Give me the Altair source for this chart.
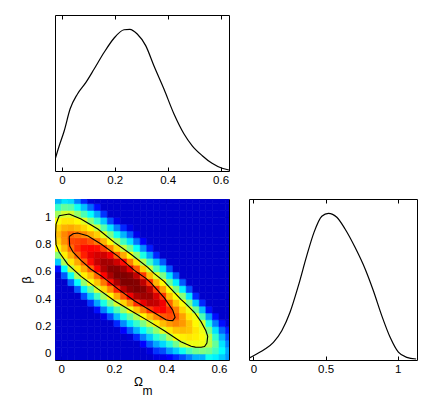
import altair as alt
import pandas as pd

FONT = "Liberation Sans"

# ---------------- 1D marginal of Omega_m (top panel) ----------------
omega_1d = [-0.026, -0.010, 0.009, 0.031, 0.059, 0.091, 0.122, 0.160, 0.197, 0.235, 0.257,
            0.285, 0.317, 0.348, 0.386, 0.424, 0.462, 0.493, 0.531, 0.568, 0.606, 0.632]
omega_pdf = [0.080, 0.178, 0.284, 0.437, 0.543, 0.625, 0.719, 0.837, 0.936, 0.996, 0.999,
             0.966, 0.884, 0.742, 0.578, 0.402, 0.261, 0.178, 0.108, 0.054, 0.019, 0.007]

# ---------------- 1D marginal of beta (right panel) ----------------
beta_1d = [-0.030, 0.023, 0.081, 0.139, 0.197, 0.254, 0.312, 0.370, 0.420, 0.474, 0.520,
           0.578, 0.635, 0.704, 0.774, 0.831, 0.889, 0.947, 1.004, 1.062, 1.127]
beta_pdf = [0.012, 0.041, 0.075, 0.121, 0.200, 0.326, 0.508, 0.713, 0.872, 0.982, 1.002,
            0.975, 0.895, 0.770, 0.622, 0.473, 0.303, 0.155, 0.053, 0.018, 0.007]

# ---------------- 2D density grid (columns of Omega_m, rows of beta bottom->top) -------------
omega_edges = [round(-0.025 + 0.025 * k, 4) for k in range(28)]
beta_edges = [round(-0.05 + 0.05 * k, 4) for k in range(25)]
density_cols = [
    [0,0,0,0,0,0,0,0,0,0,0,0,0,0.6,2.1,3.6,4.5,5.0,5.3,5.0,4.5,3.8,2.9,1.9],
    [0,0,0,0,0,0,0,0,0,0,0,0,1.2,2.5,3.9,4.7,5.3,5.8,5.9,5.4,4.8,4.2,3.3,2.3],
    [0,0,0,0,0,0,0,0,0,0,0,1.3,2.6,4.0,4.8,5.5,6.2,6.6,6.3,5.5,4.8,4.2,3.2,2.2],
    [0,0,0,0,0,0,0,0,0,0,1.2,2.5,3.9,4.8,5.5,6.3,6.9,6.7,6.1,5.3,4.6,3.7,2.6,1.5],
    [0,0,0,0,0,0,0,0,0,1.1,2.4,3.7,4.7,5.5,6.3,7.1,7.3,6.8,5.9,5.0,4.3,3.1,2.0,0.8],
    [0,0,0,0,0,0,0,0,0.9,2.1,3.3,4.5,5.3,6.3,7.3,7.9,7.4,6.5,5.5,4.6,3.6,2.5,1.3,0.1],
    [0,0,0,0,0,0,0,0.6,1.8,3.0,4.2,5.2,6.3,7.4,8.6,8.3,7.3,6.1,5.1,4.1,2.9,1.8,0.6,0],
    [0,0,0,0,0,0,0.3,1.5,2.7,3.8,5.0,6.1,7.4,9.0,9.3,8.4,6.7,5.4,4.3,3.2,2.1,0.9,0,0],
    [0,0,0,0,0,0,1.1,2.3,3.5,4.6,5.9,7.3,9.2,9.8,9.2,7.6,5.9,4.6,3.5,2.3,1.1,0,0,0],
    [0,0,0,0,0,0.8,2.0,3.1,4.2,5.5,7.0,9.1,10.0,9.8,8.4,6.4,5.0,3.8,2.6,1.5,0.3,0,0,0],
    [0,0,0,0,0.5,1.6,2.7,3.8,5.0,6.5,8.8,10.0,10.0,9.3,7.3,5.5,4.1,3.0,1.9,0.8,0,0,0,0],
    [0,0,0,0.1,1.2,2.3,3.3,4.4,5.8,7.7,9.7,10.0,9.8,8.0,6.0,4.5,3.4,2.3,1.2,0.2,0,0,0,0],
    [0,0,0,0.8,1.9,2.9,3.9,5.2,6.9,9.0,10.0,9.9,8.7,6.4,4.9,3.7,2.5,1.4,0.3,0,0,0,0,0],
    [0,0,0.5,1.5,2.5,3.5,4.6,6.0,7.9,9.4,9.8,8.8,6.8,5.1,3.9,2.7,1.6,0.5,0,0,0,0,0,0],
    [0,0.2,1.2,2.1,3.1,4.1,5.3,6.8,8.7,9.4,8.8,6.9,5.3,4.1,3.0,1.8,0.7,0,0,0,0,0,0,0],
    [0.2,0.9,1.8,2.8,3.7,4.7,5.9,7.3,8.6,8.2,6.8,5.4,4.3,3.1,2.0,0.8,0,0,0,0,0,0,0,0],
    [0.3,1.1,2.2,3.2,4.3,5.3,6.4,7.5,7.7,6.8,5.6,4.6,3.5,2.3,1.2,0,0,0,0,0,0,0,0,0],
    [0.5,1.7,2.8,3.9,4.8,5.7,6.6,6.9,6.3,5.3,4.5,3.4,2.3,1.1,0,0,0,0,0,0,0,0,0,0],
    [0.8,2.1,3.4,4.5,5.2,5.9,6.4,6.0,5.2,4.5,3.5,2.4,1.2,0,0,0,0,0,0,0,0,0,0,0],
    [1.1,2.6,4.1,4.7,5.3,5.7,5.6,5.0,4.5,3.6,2.4,1.2,0,0,0,0,0,0,0,0,0,0,0,0],
    [1.5,3.1,4.4,4.8,5.2,5.2,4.8,4.4,3.5,2.3,1.1,0,0,0,0,0,0,0,0,0,0,0,0,0],
    [1.9,3.4,4.4,4.7,4.8,4.6,4.4,3.4,2.1,0.8,0,0,0,0,0,0,0,0,0,0,0,0,0,0],
    [1.9,3.5,4.4,4.5,4.4,4.2,3.1,2.0,0.8,0,0,0,0,0,0,0,0,0,0,0,0,0,0,0],
    [2.6,3.4,4.0,4.0,3.5,2.7,1.7,0.6,0,0,0,0,0,0,0,0,0,0,0,0,0,0,0,0],
    [2.4,3.0,3.3,2.9,2.3,1.5,0.6,0,0,0,0,0,0,0,0,0,0,0,0,0,0,0,0,0],
    [2.1,2.5,2.3,1.9,1.3,0.6,0,0,0,0,0,0,0,0,0,0,0,0,0,0,0,0,0,0],
    [1.7,1.8,1.5,1.1,0.7,0.1,0,0,0,0,0,0,0,0,0,0,0,0,0,0,0,0,0,0],
]

# ---------------- confidence contours (Omega_m, beta) ----------------
outer_om = [0.030, 0.075, 0.139, 0.202, 0.265, 0.329, 0.354, 0.392, 0.411, 0.455, 0.475, 0.506,
            0.532, 0.550, 0.557, 0.554, 0.545, 0.532, 0.510, 0.494, 0.455, 0.392, 0.329, 0.265,
            0.202, 0.139, 0.075, 0.024, -0.008, -0.020, -0.022, -0.020, -0.008, 0.030]
outer_beta = [1.024, 0.988, 0.914, 0.817, 0.730, 0.634, 0.588, 0.530, 0.490, 0.400, 0.365, 0.305,
              0.235, 0.170, 0.130, 0.080, 0.055, 0.049, 0.050, 0.056, 0.090, 0.170, 0.244, 0.317,
              0.390, 0.476, 0.568, 0.658, 0.744, 0.800, 0.870, 0.950, 1.012, 1.024]
inner_om = [0.030, 0.045, 0.062, 0.100, 0.151, 0.215, 0.278, 0.322, 0.341, 0.392, 0.424, 0.433,
            0.424, 0.410, 0.398, 0.341, 0.278, 0.215, 0.151, 0.113, 0.075, 0.045, 0.032, 0.030]
inner_beta = [0.860, 0.880, 0.885, 0.865, 0.805, 0.716, 0.612, 0.553, 0.520, 0.410, 0.320, 0.268,
              0.244, 0.245, 0.251, 0.317, 0.390, 0.476, 0.573, 0.620, 0.685, 0.745, 0.790, 0.860]

# ---------------- tables ----------------
heat_rows = []
for j, col in enumerate(density_cols):
    for i, v in enumerate(col):
        heat_rows.append({"om0": omega_edges[j], "om1": omega_edges[j + 1],
                          "b0": beta_edges[i], "b1": beta_edges[i + 1], "v": v})
heat_df = pd.DataFrame(heat_rows)

cont_rows = []
for name, oms, bs in [("outer", outer_om, outer_beta), ("inner", inner_om, inner_beta)]:
    for k, (o, b) in enumerate(zip(oms, bs)):
        cont_rows.append({"om0": o, "b0": b, "level": name, "k": k})
cont_df = pd.DataFrame(cont_rows)

om_df = pd.DataFrame({"x": omega_1d, "p": omega_pdf})
be_df = pd.DataFrame({"x": beta_1d, "p": beta_pdf})

# ---------------- scales / axes ----------------
om_scale = alt.Scale(domain=[-0.024, 0.638], nice=False, zero=False)
om_top_scale = alt.Scale(domain=[-0.026, 0.632], nice=False, zero=False)
beta_scale = alt.Scale(domain=[-0.044, 1.134], nice=False, zero=False)
beta_side_scale = alt.Scale(domain=[-0.03, 1.133], nice=False, zero=False)
pdf_scale = alt.Scale(domain=[0, 1.1], nice=False, zero=False)

color_scale = alt.Scale(domain=[0, 0.5, 2.5, 4.54, 7.43, 10],
                        range=["#0000cc", "#0000ff", "#00ffff", "#ffff00", "#ff0000", "#800000"],
                        interpolate="rgb")

LABELS = dict(labelFont=FONT, labelFontSize=11.5, labelColor="black", tickColor="black",
              labelFlush=False, domain=False, grid=False)
TITLE = dict(titleFont=FONT, titleFontSize=12, titleFontWeight="normal", titleColor="black")


def bottom_axis(vals, **kw):
    return alt.Axis(values=vals, format="~g", orient="bottom", offset=-4, tickSize=4,
                    labelPadding=3, **LABELS, **kw)


def top_ticks(vals, **kw):
    return alt.Axis(values=vals, orient="top", offset=-4, tickSize=4, labels=False,
                    domain=False, grid=False, tickColor="black", **kw)


ax_heat_x = bottom_axis([0, 0.2, 0.4, 0.6], title="Ω", titleAlign="center",
                        titleBaseline="alphabetic", titleX=83, titleY=29, **TITLE)
ax_heat_x_top = top_ticks([0, 0.2, 0.4, 0.6], title="m", titleAlign="center",
                          titleBaseline="alphabetic", titleX=92, titleY=191, **TITLE)
ax_heat_y = alt.Axis(values=[0, 0.2, 0.4, 0.6, 0.8, 1], format="~g", orient="left", offset=-4,
                     tickSize=4, labelPadding=4, **LABELS,
                     title="β", titleFont=FONT, titleFontSize=13, titleFontWeight="normal",
                     titleColor="black", titlePadding=2)
ax_heat_y_right = alt.Axis(values=[0, 0.2, 0.4, 0.6, 0.8, 1], orient="right", offset=-4,
                           tickSize=4, labels=False, domain=False, grid=False,
                           tickColor="black", title="")

heat = alt.Chart(heat_df).mark_rect(clip=True, strokeWidth=0.6).encode(
    x=alt.X("om0:Q", scale=om_scale, axis=ax_heat_x),
    x2="om1:Q",
    y=alt.Y("b0:Q", scale=beta_scale, axis=ax_heat_y),
    y2="b1:Q",
    color=alt.Color("v:Q", scale=color_scale, legend=None),
    stroke=alt.Stroke("v:Q", scale=color_scale, legend=None),
)

contours = alt.Chart(cont_df).mark_line(color="black", strokeWidth=1.1, clip=True).encode(
    x=alt.X("om0:Q", scale=om_scale, axis=ax_heat_x_top),
    y=alt.Y("b0:Q", scale=beta_scale, axis=ax_heat_y_right),
    detail="level:N",
    order="k:Q",
)

heat_panel = alt.layer(heat, contours).resolve_axis(x="independent", y="independent").properties(
    width=174, height=161)


def marginal(df, xscale, vals, w, h):
    base = alt.Chart(df).mark_line(color="black", strokeWidth=1.2, interpolate="monotone",
                                   clip=True).encode(
        x=alt.X("x:Q", scale=xscale, axis=bottom_axis(vals, title="")),
        y=alt.Y("p:Q", scale=pdf_scale, axis=None),
    )
    ticks = alt.Chart(df).mark_line(strokeOpacity=0, interpolate="monotone").encode(
        x=alt.X("x:Q", scale=xscale, axis=top_ticks(vals, title="")),
        y=alt.Y("p:Q", scale=pdf_scale, axis=None),
    )
    return alt.layer(base, ticks).resolve_axis(x="independent").properties(width=w, height=h)


top_panel = marginal(om_df, om_top_scale, [0, 0.2, 0.4, 0.6], 174, 156)
side_panel = marginal(be_df, beta_side_scale, [0, 0.5, 1], 168, 161)

bottom_row = alt.hconcat(heat_panel, side_panel, spacing=20, bounds="flush")
chart = alt.vconcat(top_panel, bottom_row, spacing=28, bounds="flush").properties(
    padding={"left": 11, "top": 6, "right": 5, "bottom": 10},
    background="white",
).configure_view(stroke="black", strokeWidth=1)

chart.save("out.html", embed_options={"renderer": "svg", "actions": False})
